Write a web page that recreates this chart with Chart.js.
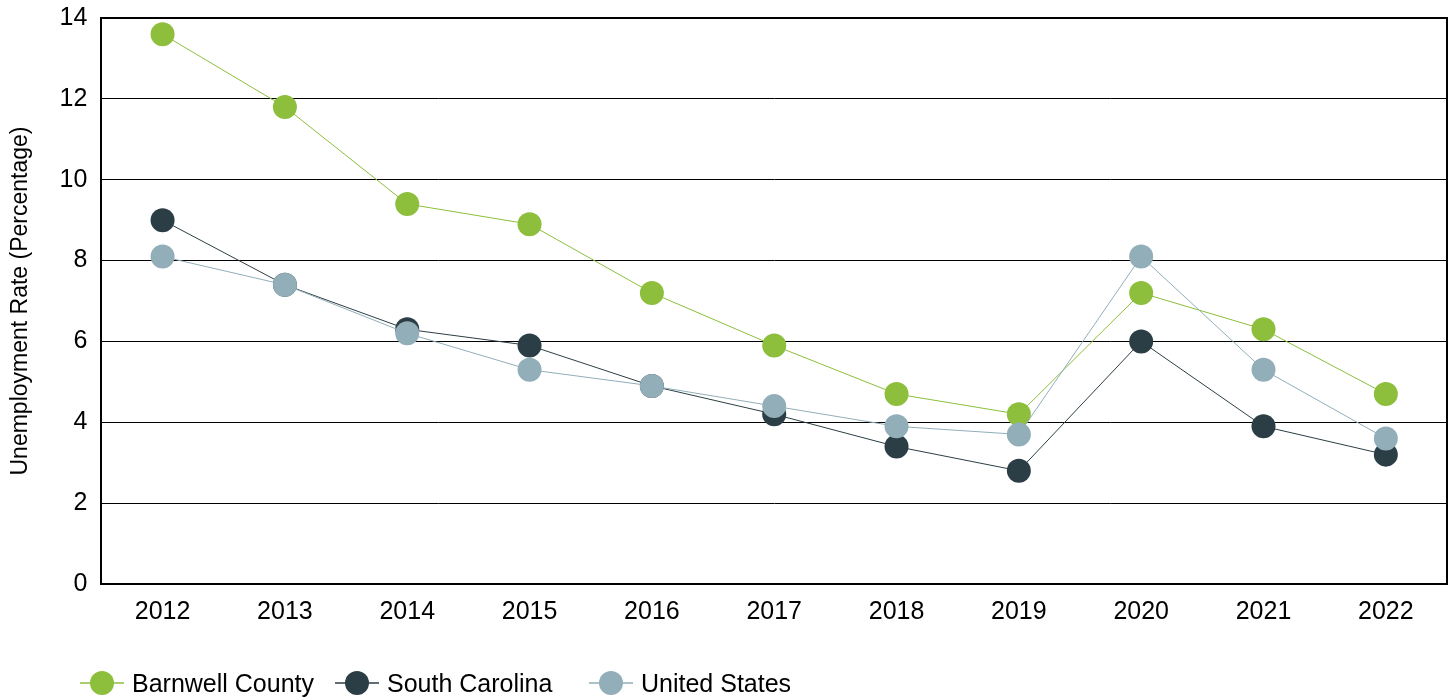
<!DOCTYPE html>
<html>
<head>
<meta charset="utf-8">
<script src="https://cdn.jsdelivr.net/npm/chart.js@4/dist/chart.umd.min.js"></script>
<style>
  html, body { margin: 0; padding: 0; background: #fff; overflow: hidden; }
  #wrap { width: 1453px; height: 700px; position: relative; }
  #chart { display: block; }
  #legend { position: absolute; top: 668px; left: 0; height: 30px; width: 1453px;
            font-family: "Liberation Sans", Arial, sans-serif; font-size: 25px; color: #000; }
  .item { position: absolute; top: 0; height: 30px; display: flex; align-items: center; }
  .item span { margin-left: 8px; white-space: nowrap; }
</style>
</head>
<body>
<div id="wrap">
  <canvas id="chart"></canvas>
  <div id="legend"></div>
</div>
<script>
// Chart data
const years = ['2012', '2013', '2014', '2015', '2016', '2017', '2018', '2019', '2020', '2021', '2022'];
const barnwell = [13.6, 11.8, 9.4, 8.9, 7.2, 5.9, 4.7, 4.2, 7.2, 6.3, 4.7];
const southCarolina = [9.0, 7.4, 6.3, 5.9, 4.9, 4.2, 3.4, 2.8, 6.0, 3.9, 3.2];
const unitedStates = [8.1, 7.4, 6.2, 5.3, 4.9, 4.4, 3.9, 3.7, 8.1, 5.3, 3.6];
const yTicks = [0, 2, 4, 6, 8, 10, 12, 14];

const green = '#8dbe3c';
const dark = '#2c3e45';
const light = '#91aeb9';

// Right-hand frame line
const frame = {
    id: 'frame',
    afterDraw(chart) {
        const { ctx, chartArea } = chart;
        ctx.save();
        ctx.strokeStyle = '#000';
        ctx.lineWidth = 2;
        ctx.beginPath();
        ctx.moveTo(chartArea.right, chartArea.top - 1);
        ctx.lineTo(chartArea.right, chartArea.bottom);
        ctx.stroke();
        ctx.restore();
    }
};

function series(label, data, color, order) {
    return {
        label: label,
        data: data,
        borderColor: color,
        backgroundColor: color,
        borderWidth: 1,
        pointRadius: 12,
        pointHoverRadius: 12,
        pointBorderWidth: 0,
        pointStyle: 'circle',
        order: order
    };
}

Chart.defaults.font.family = '"Liberation Sans", Arial, sans-serif';
Chart.defaults.color = '#000';

const chart = new Chart(document.getElementById('chart'), {
    type: 'line',
    data: {
        labels: years,
        datasets: [
            series('Barnwell County', barnwell, green, 2),
            series('South Carolina', southCarolina, dark, 1),
            series('United States', unitedStates, light, 0)
        ]
    },
    options: {
        responsive: true,
        maintainAspectRatio: false,
        animation: false,
        layout: { autoPadding: false, padding: { left: 4, right: 6, top: 18, bottom: 68 } },
        scales: {
            x: {
                offset: true,
                afterFit(axis) {
                    axis.paddingLeft = 0;
                    axis.paddingRight = 0;
                },
                grid: { display: false },
                border: { color: '#000', width: 2 },
                ticks: { font: { size: 25 }, padding: 5 }
            },
            y: {
                min: 0,
                max: 14,
                afterBuildTicks(axis) {
                    axis.ticks = yTicks.map(v => ({ value: v }));
                },
                afterFit(axis) {
                    axis.paddingTop = 0;
                    axis.paddingBottom = 0;
                },
                grid: {
                    color: '#000',
                    lineWidth: ctx => (ctx.tick && ctx.tick.value === 14 ? 2 : 1),
                    drawTicks: false
                },
                border: { color: '#000', width: 2 },
                ticks: { font: { size: 25 }, padding: 14 },
                title: {
                    display: true,
                    text: 'Unemployment Rate (Percentage)',
                    font: { size: 23 },
                    padding: { top: 3, bottom: 11 }
                }
            }
        },
        plugins: {
            legend: { display: false },
            tooltip: { enabled: false }
        }
    },
    plugins: [frame]
});

// HTML legend: line with a dot, then the label
const legendLeft = [80, 335, 589];
const legendBox = document.getElementById('legend');
chart.data.datasets.forEach((ds, i) => {
    const item = document.createElement('div');
    item.className = 'item';
    item.style.left = legendLeft[i] + 'px';
    item.innerHTML =
        '<svg width="44" height="26"><line x1="0" y1="13" x2="44" y2="13" stroke="' + ds.borderColor +
        '" stroke-width="1.5"/><circle cx="22" cy="13" r="12" fill="' + ds.borderColor + '"/></svg>' +
        '<span>' + ds.label + '</span>';
    legendBox.appendChild(item);
});
</script>
</body>
</html>
